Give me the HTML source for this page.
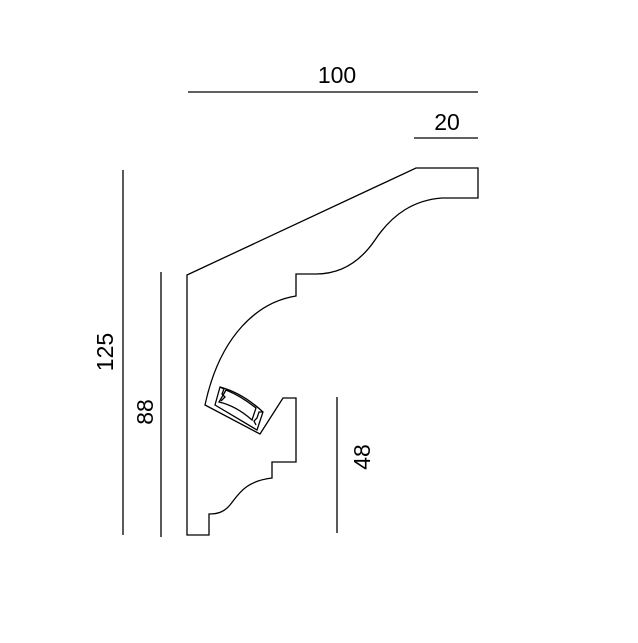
<!DOCTYPE html>
<html><head><style>body{margin:0;background:#fff}</style></head><body>
<svg width="638" height="638" xmlns="http://www.w3.org/2000/svg" font-family="Liberation Sans, sans-serif">
<rect width="638" height="638" fill="#fff"/>
<g stroke="#000" stroke-width="1.3" fill="none">
<line x1="188" y1="92" x2="478" y2="92"/>
<line x1="414" y1="138" x2="478" y2="138"/>
<line x1="123" y1="170" x2="123" y2="535"/>
<line x1="161" y1="272" x2="161" y2="537"/>
<line x1="337" y1="397" x2="337" y2="533"/>
<path d="M187,275 L416,168 L478,168 L478,198 L442,198 C415,200 393,213 375,240 C360,262 340,274 316,274 L296,274 L296,296 C258,302 220,335 205,405 L260,434 L283,398 L296,398 L296,462 L272,462 L272,478 C245,481 238,495 230,505 C224,512 218,514 209,514 L209,535 L187,535 Z"/>
<path d="M215,405 L220,387 C235,391 250,400 263,412 L257,430 Z"/>
<path d="M220,387 L224,389 L222,394 L225,397 L221,401"/>
<path d="M263,412 L259,412 L257,418 L254,421 L256,425"/>
<path d="M222,397 L226,390 C236,394 246,400 256,408 L252,420 C243,412 232,405 219,402 Z"/>
</g>
<g font-size="23" fill="#000">
<text x="337" y="83" text-anchor="middle">100</text>
<text x="447" y="130" text-anchor="middle">20</text>
<text transform="translate(113,352) rotate(-90)" text-anchor="middle">125</text>
<text transform="translate(153,412) rotate(-90)" text-anchor="middle">88</text>
<text transform="translate(370,457) rotate(-90)" text-anchor="middle">48</text>
</g>
</svg>
</body></html>
